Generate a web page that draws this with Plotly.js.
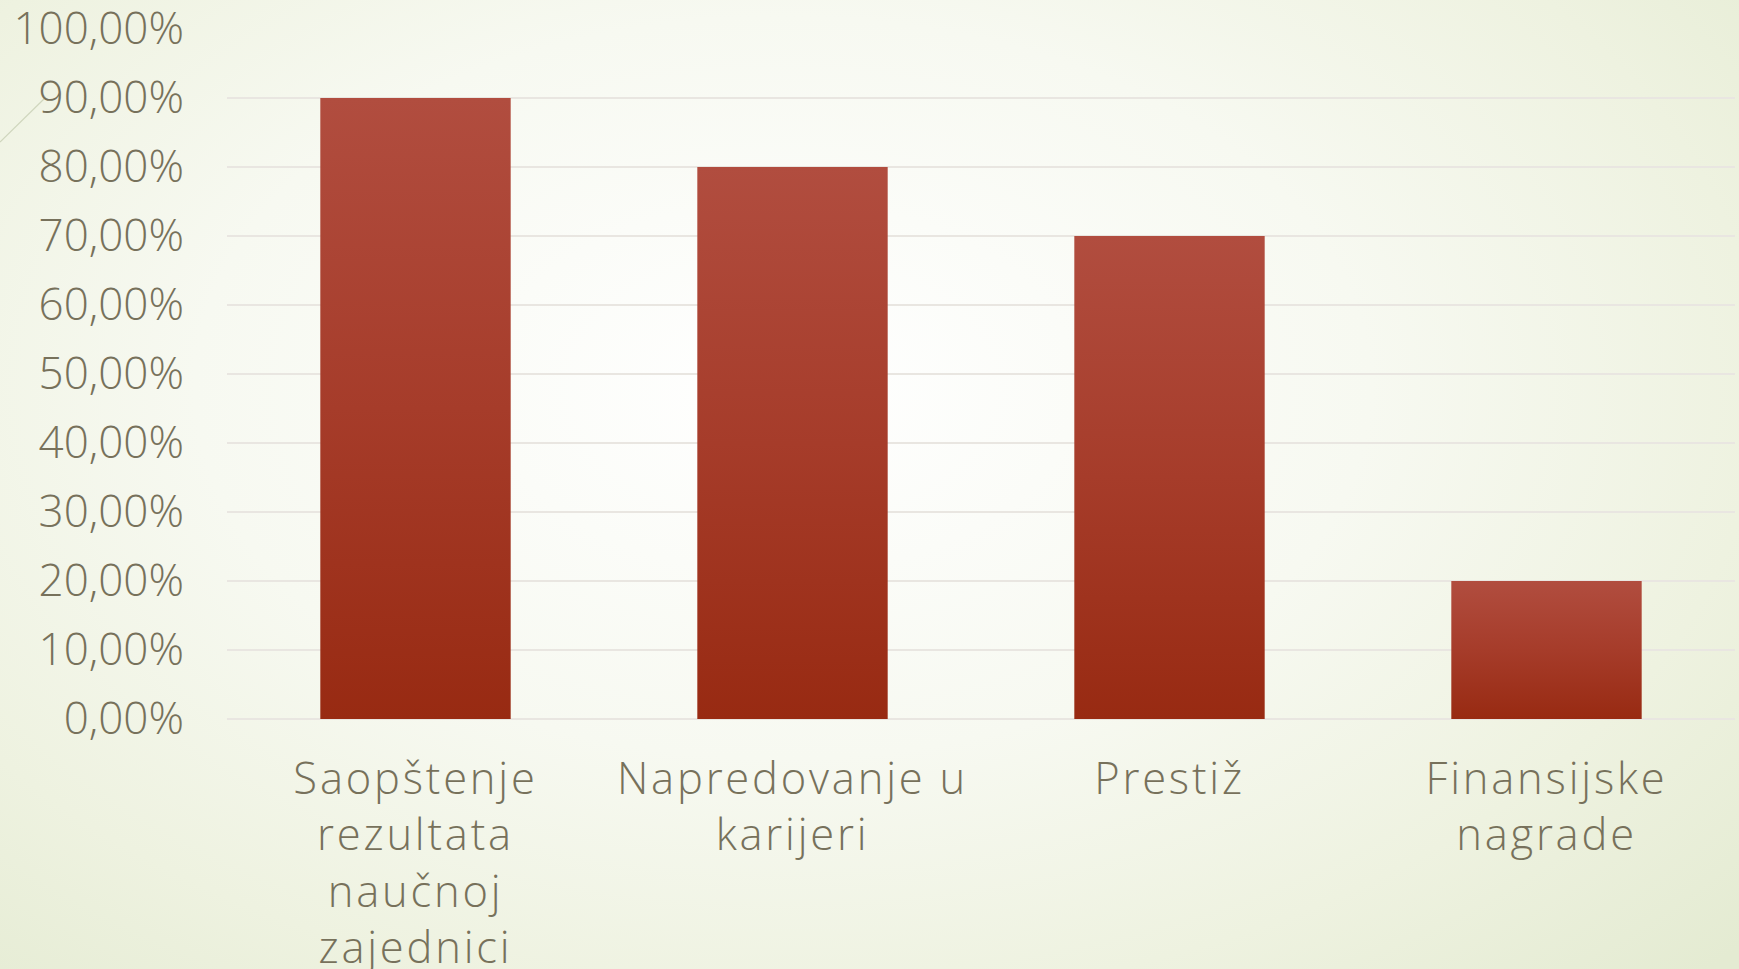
<!DOCTYPE html>
<html>
<head>
<meta charset="utf-8">
<script src="https://cdn.plot.ly/plotly-3.0.1.min.js"></script>
<style>
  html, body { margin: 0; padding: 0; }
  body {
    width: 1739px; height: 969px; overflow: hidden; position: relative;
    background: radial-gradient(ellipse 75% 85% at 45% 40%, #ffffff 0%, #f7f9f1 45%, #eef2e0 75%, #e4ebd2 100%);
  }
  #chart { position: absolute; left: 0; top: -40px; width: 1739px; height: 1009px; }
  #deco { position: absolute; left: 0; top: 0; }
  #chart .xtick text { letter-spacing: 2.8px; }
</style>
</head>
<body>
<svg id="deco" width="1739" height="969"><line x1="0" y1="142" x2="46" y2="97" stroke="#cfd6bd" stroke-width="1.2"/></svg>
<div id="chart"></div>
<script>
const categories = ["Saopštenje<br>rezultata<br>naučnoj<br>zajednici", "Napredovanje u<br>karijeri", "Prestiž", "Finansijske<br>nagrade"];
const values = [0.90, 0.80, 0.70, 0.20];
const yTickValues = [0, 0.1, 0.2, 0.3, 0.4, 0.5, 0.6, 0.7, 0.8, 0.9, 1.0];

const textColor = "#77715b";
const fontFamily = "'Century Gothic', 'Open Sans', Lato, sans-serif";

const trace = {
  type: "bar",
  x: categories,
  y: values,
  marker: { color: "#a63a28", line: { width: 0 } },
  width: 0.505,
  hoverinfo: "skip"
};

const layout = {
  width: 1739, height: 1009,
  margin: { l: 227, r: 4, t: 69, b: 250 },
  paper_bgcolor: "rgba(0,0,0,0)",
  plot_bgcolor: "rgba(0,0,0,0)",
  separators: ",.",
  showlegend: false,
  font: { family: fontFamily, color: textColor, size: 42 },
  xaxis: {
    type: "category",
    showgrid: false, zeroline: false, showline: false,
    ticks: "", ticklabelstandoff: 30,
    tickfont: { family: fontFamily, size: 43.5, color: textColor, weight: 300 }
  },
  yaxis: {
    range: [0, 1],
    tickvals: yTickValues,
    tickformat: ".2%",
    showgrid: true, gridcolor: "#e9e6e1", gridwidth: 2,
    zeroline: true, zerolinecolor: "#e9e6e1", zerolinewidth: 2,
    showline: false, ticks: "",
    ticklabelstandoff: 42,
    tickfont: { family: fontFamily, size: 44, color: textColor, weight: 300 }
  }
};

Plotly.newPlot("chart", [trace], layout, { staticPlot: true }).then(function (gd) {
  const svg = gd.querySelector(".main-svg");
  const ns = "http://www.w3.org/2000/svg";
  let defs = svg.querySelector("defs");
  if (!defs) { defs = document.createElementNS(ns, "defs"); svg.insertBefore(defs, svg.firstChild); }
  const grad = document.createElementNS(ns, "linearGradient");
  grad.setAttribute("id", "barGrad");
  grad.setAttribute("x1", "0"); grad.setAttribute("y1", "0");
  grad.setAttribute("x2", "0"); grad.setAttribute("y2", "1");
  const stops = [["0", "#b14d3f"], ["0.5", "#a63c2a"], ["1", "#982a12"]];
  stops.forEach(function (s) {
    const st = document.createElementNS(ns, "stop");
    st.setAttribute("offset", s[0]);
    st.setAttribute("stop-color", s[1]);
    grad.appendChild(st);
  });
  defs.appendChild(grad);
  gd.querySelectorAll(".bars .point path").forEach(function (p) {
    p.style.fill = "url(#barGrad)";
  });
});
</script>
</body>
</html>
